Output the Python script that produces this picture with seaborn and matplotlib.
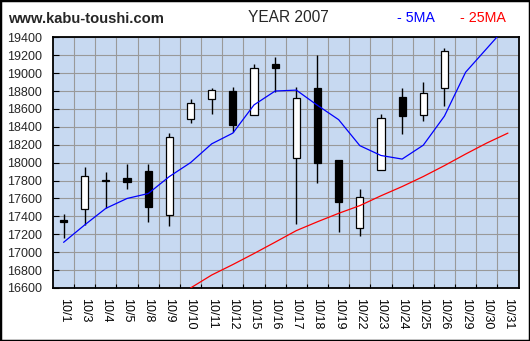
import numpy as np
import pandas as pd
import matplotlib
matplotlib.use("Agg")
import matplotlib.pyplot as plt
import seaborn as sns
from matplotlib.patches import Rectangle

# Trading days of October 2007
dates = ["10/1", "10/3", "10/4", "10/5", "10/8", "10/9", "10/10", "10/11",
         "10/12", "10/15", "10/16", "10/17", "10/18", "10/19", "10/22",
         "10/23", "10/24", "10/25", "10/26", "10/29", "10/30", "10/31"]

nan = np.nan
opens = [17360, 17480, 17805, 17830, 17908, 17414, 18485, 18708, 18801, 18537,
         19100, 18050, 18831, 18031, 17268, 17916, 18730, 18530, 18831, nan, nan, nan]
highs = [17428, 17953, 17901, 17986, 17986, 18332, 18712, 18835, 18846, 19102,
         19180, 18842, 19203, 18031, 17704, 18544, 18831, 18902, 19281, nan, nan, nan]
lows = [17157, 17306, 17499, 17707, 17332, 17298, 18448, 18548, 18347, 18537,
        18794, 17313, 17778, 17231, 17176, 17916, 18325, 18470, 18634, nan, nan, nan]
closes = [17335, 17852, 17790, 17780, 17500, 18284, 18663, 18809, 18425, 19054,
          19060, 18719, 18001, 17566, 17614, 18496, 18518, 18775, 19244, nan, nan, nan]

# Moving averages
ma5 = [17110, 17305, 17490, 17600, 17655, 17845, 18000, 18210, 18330, 18645,
       18800, 18810, 18640, 18480, 18190, 18080, 18040, 18195, 18520, 19010,
       19275, 19540]
ma25 = [nan, nan, nan, nan, nan, nan, 16600, 16745, 16862, 16985, 17112,
        17241, 17340, 17434, 17520, 17630, 17733, 17845, 17967, 18096, 18219,
        18330]

y_ticks = list(range(16600, 19401, 200))

sns.set_style("whitegrid", {
    "axes.facecolor": "#C7D9F1",
    "grid.color": "#999999",
    "axes.edgecolor": "black",
})
plt.rcParams["font.family"] = ["Liberation Sans", "DejaVu Sans"]

W, H = 530, 341
fig = plt.figure(figsize=(W / 100, H / 100), dpi=100)
ax = fig.add_axes([53 / W, 1 - 288 / H, (518.5 - 53) / W, (288 - 37.3) / H])

xs = np.arange(len(dates))
df = pd.DataFrame({"x": xs, "date": dates, "open": opens, "high": highs,
                   "low": lows, "close": closes, "ma5": ma5, "ma25": ma25})

# Candlesticks: wick then body (white = up day, black = down day)
cdf = df.dropna(subset=["open"])
ax.vlines(cdf["x"], cdf["low"], cdf["high"], color="black", lw=1.0, zorder=3)
body_lo = np.minimum(cdf["open"], cdf["close"])
body_h = np.abs(cdf["close"] - cdf["open"])
face = ["white" if c >= o else "black" for o, c in zip(cdf["open"], cdf["close"])]
ax.bar(cdf["x"], body_h, bottom=body_lo, width=0.34, color=face,
       edgecolor="black", linewidth=0.9, zorder=4)

# Moving average lines
sns.lineplot(data=df, x="x", y="ma5", color="#0000FF", lw=0.9, ax=ax, zorder=5)
sns.lineplot(data=df.dropna(subset=["ma25"]), x="x", y="ma25", color="#FF0000",
             lw=0.9, ax=ax, zorder=5)

ax.set_xlim(-0.5, len(dates) - 0.5)
ax.set_ylim(16600, 19400)
ax.set_yticks(y_ticks)
ax.set_yticklabels([str(v) for v in y_ticks], fontsize=9)
ax.set_xticks(xs)
ax.set_xticklabels(dates, rotation=270, fontsize=9, va="top", ha="center")
ax.set_xticks(np.arange(0.5, len(dates) - 1, 1.0), minor=True)
ax.set_xlabel("")
ax.set_ylabel("")

ax.grid(False)
ax.grid(which="minor", axis="x", color="#999999", lw=0.8)
ax.grid(which="major", axis="y", color="#999999", lw=0.8)
ax.set_axisbelow(True)

ax.tick_params(axis="x", which="major", length=0, pad=7, colors="black")
ax.tick_params(axis="x", which="minor", direction="in", length=3, width=0.8,
               color="black", bottom=True)
ax.tick_params(axis="y", which="major", direction="in", length=4, width=0.8,
               color="black", pad=8, left=True)
for s in ax.spines.values():
    s.set_linewidth(1.3)
    s.set_color("black")

# Header texts
fig.text(8 / W, 1 - 19 / H, "www.kabu-toushi.com", fontsize=10.6,
         fontweight="bold", ha="left", va="center")
fig.text(288 / W, 1 - 18 / H, "YEAR 2007", fontsize=11.2, ha="center", va="center")
fig.text(397 / W, 1 - 17.5 / H, "- 5MA", fontsize=10.3, color="#0000FF",
         ha="left", va="center")
fig.text(460 / W, 1 - 17.5 / H, "- 25MA", fontsize=10.3, color="#FF0000",
         ha="left", va="center")

fig.add_artist(Rectangle((0, 0), 1, 1, transform=fig.transFigure, fill=False,
                         edgecolor="black", linewidth=2.5))

fig.savefig("out.png", dpi=100)
